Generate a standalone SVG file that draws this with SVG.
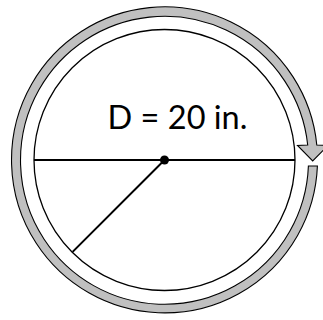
<svg xmlns="http://www.w3.org/2000/svg" width="323" height="320" viewBox="0 0 323 320">
<style>
.ring{fill:#c0c0c0;stroke:#000;stroke-width:1.1;stroke-linejoin:miter}
.circ{fill:none;stroke:#000;stroke-width:1.3}
.ln{stroke:#000;stroke-width:2;fill:none}
.lbl{font-family:Lato,"Open Sans","Liberation Sans",sans-serif;font-size:32.5px;fill:#000}
</style>
<rect width="323" height="320" fill="#fff"/>
<g id="ring">
<path class="ring" d="M307.7,145 L297.5,145.5 L312.7,161 L328,145.5 L316.8,145 A153,153 0 1 0 317.4,166 L308.4,166 A144,144 0 1 1 307.7,145 Z"/>
</g>
<g id="circle">
<circle class="circ" cx="164.5" cy="160" r="130.5"/>
</g>
<g id="connectors">
<line class="ln" x1="34" y1="160" x2="295" y2="160"/>
<line class="ln" x1="164.5" y1="160" x2="72.6" y2="251.9"/>
</g>
<g id="center">
<circle cx="164.5" cy="160" r="4.5" fill="#000"/>
</g>
<g id="label">
<text class="lbl" x="177.5" y="128.5" text-anchor="middle">D = 20 in.</text>
</g>
</svg>
